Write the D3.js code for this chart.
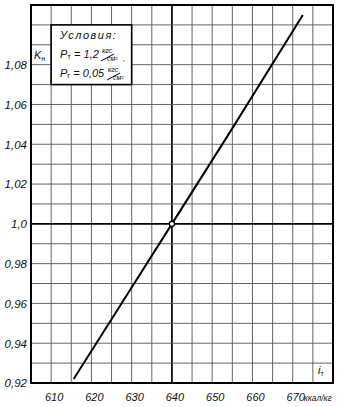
<!DOCTYPE html>
<html><head><meta charset="utf-8">
<script src="https://cdn.jsdelivr.net/npm/d3@7"></script>
<style>
body{margin:0;background:#fff;}
svg{display:block;}
text{font-family:"Liberation Sans",Arial,sans-serif;font-style:italic;fill:#111;}
tspan.sub{font-style:normal;}
</style></head><body>
<svg id="c" width="352" height="407"></svg>
<script>
// data
const enthalpy = [615.6, 625, 640, 655, 672.5];      // i_T, ккал/кг
const kCoef    = [0.922, 0.952, 1.0, 1.048, 1.105];  // K_н
const xTickValues = [610, 620, 630, 640, 650, 660, 670];
const xTickLabels = ["610", "620", "630", "640", "650", "660", "670"];
const yTickValues = [0.92, 0.94, 0.96, 0.98, 1.0, 1.02, 1.04, 1.06, 1.08];
const yTickLabels = ["0,92", "0,94", "0,96", "0,98", "1,0", "1,02", "1,04", "1,06", "1,08"];
const xGrid = d3.range(605, 680.1, 5);
const yGrid = d3.range(0, 20).map(i => +(0.92 + i * 0.01).toFixed(2));
const markerX = [640], markerY = [1.0];

const svg = d3.select("#c");
const x = d3.scaleLinear().domain([605, 680]).range([31, 333]);
const y = d3.scaleLinear().domain([0.92, 1.11]).range([383, 5]);

// grid
const g = svg.append("g");
g.selectAll("line.v").data(xGrid).join("line")
  .attr("x1", d => x(d)).attr("x2", d => x(d)).attr("y1", y(1.11)).attr("y2", y(0.92))
  .attr("stroke", d => d === 640 ? "#000" : "#555")
  .attr("stroke-width", d => d === 640 ? 1.7 : 0.9);
g.selectAll("line.h").data(yGrid).join("line")
  .attr("y1", d => y(d)).attr("y2", d => y(d)).attr("x1", x(605)).attr("x2", x(680))
  .attr("stroke", d => Math.abs(d - 1) < 1e-9 ? "#000" : "#555")
  .attr("stroke-width", d => Math.abs(d - 1) < 1e-9 ? 1.7 : 0.9);

// border
svg.append("rect").attr("x", x(605)).attr("y", y(1.11))
  .attr("width", x(680) - x(605)).attr("height", y(0.92) - y(1.11))
  .attr("fill", "none").attr("stroke", "#000").attr("stroke-width", 2);

// conditions box
svg.append("rect").attr("x", x(610)).attr("y", y(1.10))
  .attr("width", x(630) - x(610)).attr("height", y(1.07) - y(1.10))
  .attr("fill", "#fff").attr("stroke", "#000").attr("stroke-width", 1.6);
svg.append("text").attr("x", 60).attr("y", 39).attr("font-size", 11)
  .attr("letter-spacing", 1.5).text("Условия:");
function frac(x0, yb) {
  svg.append("text").attr("x", x0 + 1).attr("y", yb - 5).attr("font-size", 7).text("кгс");
  svg.append("line").attr("x1", x0).attr("y1", yb + 3).attr("x2", x0 + 13).attr("y2", yb - 4)
    .attr("stroke", "#000").attr("stroke-width", 1);
  svg.append("text").attr("x", x0 + 6).attr("y", yb + 3).attr("font-size", 7).text("см²");
}
const t1 = svg.append("text").attr("x", 60).attr("y", 58).attr("font-size", 11);
t1.append("tspan").text("P");
t1.append("tspan").attr("class", "sub").attr("font-size", 8).attr("dy", 1).text("т");
t1.append("tspan").attr("dy", -1).text(" = 1,2");
frac(101, 58);
svg.append("text").attr("x", 123).attr("y", 61).attr("font-size", 8).text(",");
const t2 = svg.append("text").attr("x", 60).attr("y", 77).attr("font-size", 11);
t2.append("tspan").text("P");
t2.append("tspan").attr("class", "sub").attr("font-size", 8).attr("dy", 1).text("г");
t2.append("tspan").attr("dy", -1).text(" = 0,05");
frac(107, 77);

// K_н label in cell
const k = svg.append("text").attr("x", 34).attr("y", 59).attr("font-size", 11);
k.append("tspan").text("K");
k.append("tspan").attr("class", "sub").attr("font-size", 7).attr("dy", 2).text("н");

// i_T label in cell
const it = svg.append("text").attr("x", 318).attr("y", 374).attr("font-size", 11);
it.append("tspan").text("i");
it.append("tspan").attr("class", "sub").attr("font-size", 7).attr("dy", 2).text("т");

// line
const pts = enthalpy.map((v, i) => [v, kCoef[i]]);
svg.append("path").datum(pts)
  .attr("d", d3.line().x(d => x(d[0])).y(d => y(d[1])))
  .attr("fill", "none").attr("stroke", "#000").attr("stroke-width", 2);
svg.selectAll("circle.m").data(markerX).join("circle")
  .attr("cx", d => x(d)).attr("cy", (d, i) => y(markerY[i])).attr("r", 2.6)
  .attr("fill", "#fff").attr("stroke", "#000").attr("stroke-width", 1.3);

// y tick labels
svg.selectAll("text.yl").data(yTickValues).join("text")
  .attr("x", 27).attr("y", d => y(d)).attr("dy", "0.38em")
  .attr("text-anchor", "end").attr("font-size", 11.5)
  .text((d, i) => yTickLabels[i]);
// x tick labels
svg.selectAll("text.xl").data(xTickValues).join("text")
  .attr("x", d => x(d) + 3).attr("y", 401)
  .attr("text-anchor", "middle").attr("font-size", 11)
  .text((d, i) => xTickLabels[i]);
svg.append("text").attr("x", x(670) + 11).attr("y", 401).attr("font-size", 8.5).text("ккал/кг");
</script></body></html>
